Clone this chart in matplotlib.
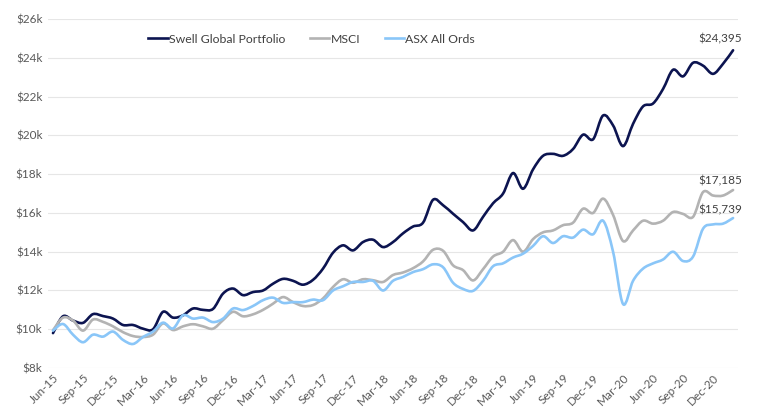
import matplotlib
matplotlib.use("Agg")
import matplotlib.pyplot as plt
from matplotlib.path import Path
from matplotlib.patches import PathPatch
import numpy as np

# monthly values, Jun-15 .. Feb-21, in $k
swell = [9.8, 10.67, 10.45, 10.33, 10.78, 10.68, 10.55, 10.22, 10.22, 10.03,
         10.0, 10.9, 10.6, 10.72, 11.07, 11.0, 11.05, 11.84, 12.1, 11.76,
         11.92, 12.0, 12.35, 12.6, 12.5, 12.3, 12.55, 13.13, 13.95, 14.33,
         14.07, 14.5, 14.62, 14.24, 14.5, 14.95, 15.3, 15.5, 16.68, 16.4,
         15.96, 15.53, 15.1, 15.8, 16.5, 17.0, 18.06, 17.25, 18.25, 18.95,
         19.05, 18.95, 19.3, 20.04, 19.8, 21.03, 20.52, 19.45, 20.6, 21.5,
         21.65, 22.4, 23.39, 23.05, 23.75, 23.6, 23.18, 23.7, 24.395]
msci = [9.95, 10.6, 10.45, 9.93, 10.5, 10.38, 10.15, 9.85, 9.65, 9.6,
        9.72, 10.3, 9.96, 10.15, 10.26, 10.15, 10.03, 10.47, 10.9, 10.67,
        10.77, 11.0, 11.32, 11.66, 11.4, 11.2, 11.25, 11.59, 12.18, 12.58,
        12.4, 12.58, 12.53, 12.44, 12.8, 12.93, 13.15, 13.5, 14.1, 14.05,
        13.3, 13.05, 12.52, 13.1, 13.75, 14.0, 14.6, 14.0, 14.65, 15.0,
        15.1, 15.37, 15.5, 16.22, 16.0, 16.74, 15.9, 14.55, 15.1, 15.6,
        15.45, 15.6, 16.05, 15.95, 15.8, 17.08, 16.9, 16.9, 17.185]
asx = [9.93, 10.27, 9.72, 9.33, 9.72, 9.62, 9.88, 9.45, 9.24, 9.6,
       9.88, 10.34, 10.04, 10.72, 10.55, 10.6, 10.37, 10.55, 11.07, 10.99,
       11.2, 11.5, 11.63, 11.36, 11.4, 11.4, 11.53, 11.5, 12.0, 12.22,
       12.44, 12.44, 12.5, 12.0, 12.5, 12.7, 12.95, 13.1, 13.35, 13.2,
       12.4, 12.08, 11.98, 12.5, 13.25, 13.4, 13.7, 13.9, 14.3, 14.8,
       14.45, 14.8, 14.73, 15.14, 14.9, 15.6, 14.0, 11.3, 12.5, 13.13,
       13.4, 13.6, 14.0, 13.52, 13.75, 15.19, 15.41, 15.45, 15.739]

tick_labels = ["Jun-15", "Sep-15", "Dec-15", "Mar-16", "Jun-16", "Sep-16",
               "Dec-16", "Mar-17", "Jun-17", "Sep-17", "Dec-17", "Mar-18",
               "Jun-18", "Sep-18", "Dec-18", "Mar-19", "Jun-19", "Sep-19",
               "Dec-19", "Mar-20", "Jun-20", "Sep-20", "Dec-20"]
end_labels = ["$24,395", "$17,185", "$15,739"]
series_names = ["Swell Global Portfolio", "MSCI", "ASX All Ords"]
colors = ["#0c1450", "#b3b3b3", "#8ac6f8"]

plt.rcParams['font.family'] = ['Lato', 'DejaVu Sans']


def smooth_path(x, y):
    # excel-style smoothed line: catmull-rom turned into cubic bezier pieces
    pts = np.column_stack([x, y]).astype(float)
    verts = [pts[0]]
    codes = [Path.MOVETO]
    n = len(pts)
    for k in range(n - 1):
        p0 = pts[k - 1] if k > 0 else pts[k]
        p1 = pts[k]
        p2 = pts[k + 1]
        p3 = pts[k + 2] if k + 2 < n else pts[k + 1]
        verts += [p1 + (p2 - p0) / 6, p2 - (p3 - p1) / 6, p2]
        codes += [Path.CURVE4] * 3
    return Path(verts, codes)


fig = plt.figure(figsize=(7.57, 4.08), dpi=100)
ax = fig.add_axes([0.0634, 0.098, 0.9116, 0.855])

x = np.arange(len(swell))
for vals, name, c, lbl, off in zip([swell, msci, asx], series_names, colors,
                                   end_labels, [6, 4, 3]):
    ax.add_patch(PathPatch(smooth_path(x, vals), fill=False, ec=c, lw=1.9,
                           capstyle='round', joinstyle='round'))
    ax.plot([], [], color=c, lw=1.9, label=name)
    ax.annotate(lbl, (x[-1], vals[-1]), xytext=(-13, off),
                textcoords='offset pixels', ha='center', va='bottom',
                fontsize=8.5, color='#404040')

ax.set_xlim(-0.5, len(swell) - 0.5)
ax.set_ylim(8, 26)
ax.set_yticks(np.arange(8, 27, 2))
ax.set_yticklabels([f"${v}k" for v in range(8, 27, 2)])
ax.set_xticks(np.arange(0, 3 * len(tick_labels), 3))
ax.set_xticklabels(tick_labels, rotation=45, ha='right', rotation_mode='anchor')
ax.tick_params(length=0, labelsize=8.5, labelcolor='#595959', pad=4)
ax.tick_params(axis='x', pad=3)
ax.grid(axis='y', color='#e6e6e6', lw=0.8)
ax.set_axisbelow(True)
for s in ax.spines.values():
    s.set_visible(False)

ax.legend(loc='center', bbox_to_anchor=(0.382, 0.943), ncol=3, frameon=False,
          fontsize=8.8, handlelength=1.6, handletextpad=0.1, columnspacing=2.0,
          labelcolor='#404040')

fig.savefig("out.png", dpi=100)
